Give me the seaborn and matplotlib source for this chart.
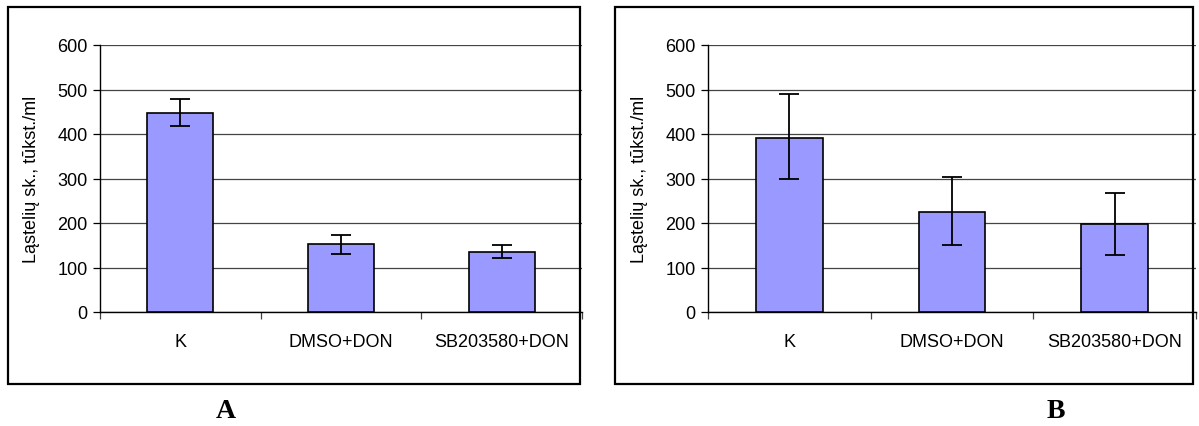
import matplotlib
matplotlib.use("Agg")
import matplotlib.pyplot as plt
import seaborn as sns
import pandas as pd
import numpy as np
from matplotlib.patches import Rectangle

categories = ["K", "DMSO+DON", "SB203580+DON"]
values_a = [447, 152, 135]
err_lo_a = [30, 22, 13]
err_hi_a = [31, 21, 15]
values_b = [392, 225, 198]
err_lo_b = [92, 75, 71]
err_hi_b = [98, 78, 70]
yticks = [0, 100, 200, 300, 400, 500, 600]
ylabel = "Ląstelių sk., tūkst./ml"
panel_labels = ["A", "B"]

sns.set_theme(style="white")
plt.rcParams['font.family'] = ['Liberation Sans', 'DejaVu Sans']
plt.rcParams['text.color'] = 'black'
plt.rcParams['axes.labelcolor'] = 'black'
plt.rcParams['xtick.color'] = 'black'
plt.rcParams['ytick.color'] = 'black'

W, H = 1199, 427
fig = plt.figure(figsize=(W / 100, H / 100), dpi=100)

def px_axes(x0, x1, ytop, ybot):
    return fig.add_axes([x0 / W, (H - ybot) / H, (x1 - x0) / W, (ybot - ytop) / H])

def draw(ax, vals, lo, hi):
    df = pd.DataFrame({"cat": categories, "val": vals})
    sns.barplot(data=df, x="cat", y="val", ax=ax, color="#9999FF", saturation=1,
                width=0.41, edgecolor="black", linewidth=1.2, errorbar=None, zorder=3)
    ax.errorbar(np.arange(len(vals)), vals, yerr=[lo, hi], fmt="none", ecolor="black",
                elinewidth=1.3, capsize=7, capthick=1.3, zorder=4)
    ax.set_ylim(0, 600)
    ax.set_xlim(-0.5, 2.5)
    ax.set_yticks(yticks)
    ax.set_yticklabels([str(t) for t in yticks], fontsize=13)
    ax.yaxis.grid(True, color="#444444", linewidth=0.9, zorder=0)
    ax.set_axisbelow(True)
    ax.set_xticks([0, 1, 2])
    ax.set_xticklabels(categories, fontsize=13)
    ax.set_xticks([-0.5, 0.5, 1.5, 2.5], minor=True)
    ax.tick_params(axis="x", which="major", length=0, pad=15)
    ax.tick_params(axis="x", which="minor", length=5, width=0.9, color="#444444", direction="out", bottom=True)
    ax.tick_params(axis="y", length=5, width=0.9, color="black", direction="out", left=True, pad=4)
    ax.set_xlabel("")
    ax.set_ylabel(ylabel, fontsize=13, labelpad=12, color="black")
    for s in ["top", "right"]:
        ax.spines[s].set_visible(False)
    for s in ["left", "bottom"]:
        ax.spines[s].set_visible(True)
        ax.spines[s].set_color("black")
        ax.spines[s].set_linewidth(1.0)
    ax.set_facecolor("white")

ax_a = px_axes(100, 582, 46, 313)
draw(ax_a, values_a, err_lo_a, err_hi_a)
ax_b = px_axes(708, 1196, 46, 313)
draw(ax_b, values_b, err_lo_b, err_hi_b)

# frames
for (x0, x1) in [(8, 580), (615, 1193)]:
    fig.patches.append(Rectangle((x0 / W, (H - 385) / H), (x1 - x0) / W, (385 - 8) / H,
                                 transform=fig.transFigure, fill=False, edgecolor="black",
                                 linewidth=1.6, zorder=10))

fig.text(226 / W, (H - 412) / H, panel_labels[0], fontsize=20, fontweight="bold",
         family=["Liberation Serif", "DejaVu Serif"], ha="center", va="center", color="black")
fig.text(1056 / W, (H - 412) / H, panel_labels[1], fontsize=20, fontweight="bold",
         family=["Liberation Serif", "DejaVu Serif"], ha="center", va="center", color="black")

fig.savefig("out.png", dpi=100, facecolor="white")
